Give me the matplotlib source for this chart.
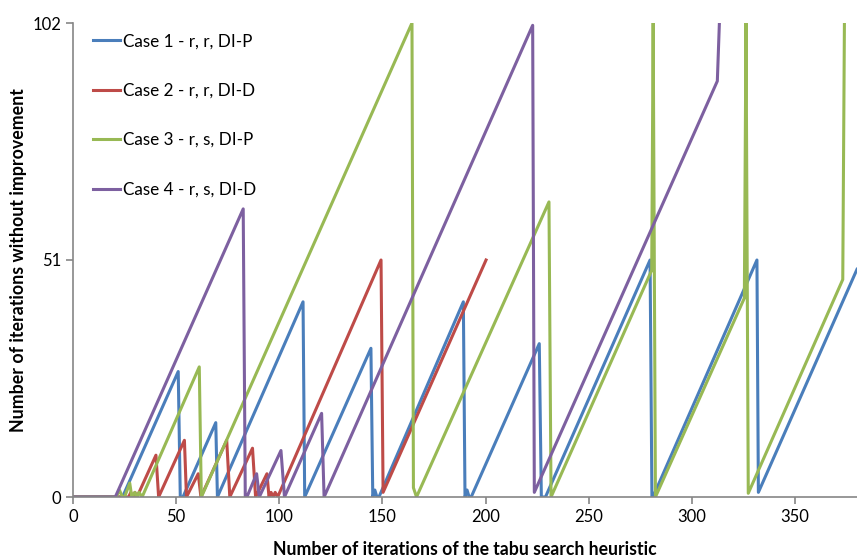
import matplotlib
matplotlib.use("Agg")
import matplotlib.pyplot as plt

# iteration / iterations-without-improvement breakpoints
case1_x = [0, 24, 51, 52, 53.3, 69.2, 70, 111.5, 112.3, 144.4, 145.3, 146.3, 147.3, 148.3,
           189.2, 190, 191, 192, 193, 226, 227, 229, 279.7, 280.6, 281.1, 331.5, 332.2, 380]
case1_y = [0, 0, 27, 0, 0, 16, 0, 42, 0, 32, 0, 1.5, 0, 0,
           42, 0, 1.5, 0, 0, 33, 0, 0, 51, 0, 0, 51, 1, 49]

case2_x = [0, 27, 28, 29, 30, 31, 40.2, 41.5, 54, 55, 60.7, 62, 74.5, 76, 87, 88.5,
           94, 95, 96, 97, 98, 99.2, 149.3, 150.3, 200.2]
case2_y = [0, 0, 1, 0, 1, 0, 9, 0, 12.2, 0, 5, 0, 12.2, 0, 10.5, 0,
           5, 0, 1, 0, 1, 0, 51, 1, 51]

case3_x = [0, 21, 22.5, 24, 25, 27.5, 28.5, 30, 31, 32, 33.5, 61.2, 62.2, 164.3, 165,
           166.5, 230.7, 231.7, 280.5, 281.2, 282.3, 325.4, 326.2, 327.3, 373.1, 373.9]
case3_y = [0, 0, 1.5, 0, 0, 3, 0, 1, 0, 1, 0, 28, 0, 102, 2,
           0, 63.5, 0, 48.8, 102, 0, 42.8, 102, 0.8, 46.8, 102]

case4_x = [0, 20.5, 82.5, 83.5, 84.3, 89, 90.3, 100.8, 102.5, 120.5, 121.7,
           222.8, 223.6, 312.3, 313.3]
case4_y = [0, 0, 62, 0, 0, 5, 0, 10, 0, 18, 0,
           101.5, 1, 89.5, 102]

labels = ['Case 1 - r, r, DI-P', 'Case 2 - r, r, DI-D',
          'Case 3 - r, s, DI-P', 'Case 4 - r, s, DI-D']
colors = ['#4A7EBB', '#BE4B48', '#98B954', '#7D60A0']

plt.rcParams['font.family'] = ['Lato', 'DejaVu Sans']

fig = plt.figure(figsize=(8.57, 5.59), dpi=100)
ax = fig.add_axes([73 / 857, 62 / 559, 784 / 857, 474 / 559])

series = [(case1_x, case1_y), (case2_x, case2_y), (case3_x, case3_y), (case4_x, case4_y)]
for (xs, ys), lab, c in zip(series, labels, colors):
    ax.plot(xs, ys, color=c, lw=2.2, label=lab, solid_joinstyle='round')

ax.set_xlim(0, 380)
ax.set_ylim(0, 102)
ax.set_xticks(range(0, 351, 50))
ax.set_yticks([0, 51, 102])

for s in ['top', 'right']:
    ax.spines[s].set_visible(False)
for s in ['left', 'bottom']:
    ax.spines[s].set_color('#868686')
    ax.spines[s].set_linewidth(1.2)
ax.tick_params(axis='both', colors='#868686', labelcolor='black', labelsize=12,
               length=5, width=1.2, direction='out')

ax.set_xlabel('Number of iterations of the tabu search heuristic',
              fontsize=12.7, fontweight='bold', labelpad=12)
ax.set_ylabel('Number of iterations without improvement',
              fontsize=12.8, fontweight='bold', labelpad=4)

ax.legend(loc='upper left', bbox_to_anchor=(0.017, 0.993), frameon=False,
          fontsize=12.3, handlelength=1.6, handletextpad=0.12, labelspacing=1.96,
          borderaxespad=0.0)

fig.savefig('out.png', dpi=100)
